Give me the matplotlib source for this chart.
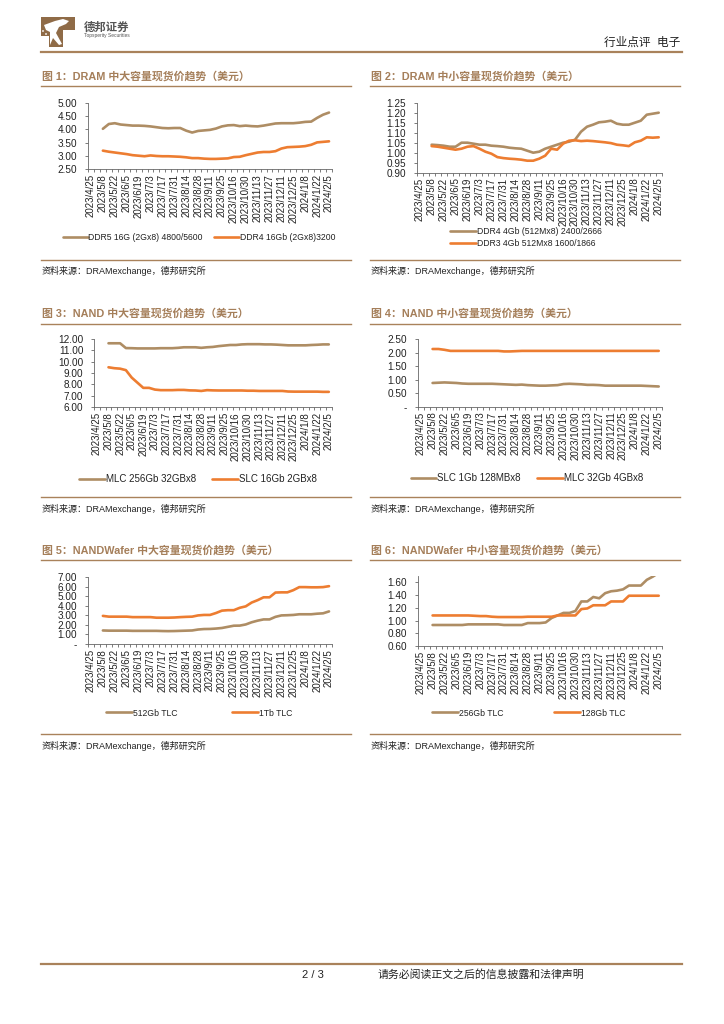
# DEPPON SECURITIES REPORT PAGE - memory spot price charts
# ----------------------------------------------------------------------------------

import numpy as np
import matplotlib
matplotlib.use('Agg')
import matplotlib.pyplot as plt
from matplotlib.lines import Line2D
from matplotlib.patches import Polygon, Circle

plt.rcParams['font.family'] = ['Liberation Sans', 'Noto Sans CJK SC', 'DejaVu Sans']


# DATA
# ----------------------------------------------------------------------------------

tick_dates = ['2023/4/25', '2023/5/8', '2023/5/22', '2023/6/5', '2023/6/19', '2023/7/3',
              '2023/7/17', '2023/7/31', '2023/8/14', '2023/8/28', '2023/9/11', '2023/9/25',
              '2023/10/16', '2023/10/30', '2023/11/13', '2023/11/27', '2023/12/11',
              '2023/12/25', '2024/1/8', '2024/1/22', '2024/2/5']

ddr5_16g = [4.02, 4.20, 4.23, 4.18, 4.16, 4.14, 4.14, 4.13, 4.11, 4.08, 4.05, 4.04, 4.05,
            4.05, 3.95, 3.88, 3.94, 3.96, 3.98, 4.03, 4.11, 4.15, 4.16, 4.12, 4.14, 4.12,
            4.11, 4.14, 4.18, 4.22, 4.23, 4.23, 4.23, 4.25, 4.28, 4.29, 4.43, 4.55, 4.63]
ddr4_16g = [3.20, 3.16, 3.13, 3.10, 3.07, 3.03, 3.01, 2.99, 3.02, 3.00, 2.99, 2.99, 2.98,
            2.97, 2.95, 2.92, 2.92, 2.90, 2.89, 2.89, 2.90, 2.91, 2.96, 2.97, 3.03, 3.08,
            3.13, 3.15, 3.15, 3.18, 3.28, 3.33, 3.34, 3.35, 3.37, 3.42, 3.51, 3.53, 3.55]

ddr4_4g = [1.040, 1.038, 1.035, 1.030, 1.030, 1.050, 1.050, 1.045, 1.040, 1.040, 1.035, 1.033,
           1.030, 1.025, 1.022, 1.020, 1.010, 1.000, 1.005, 1.020, 1.030, 1.040, 1.050, 1.055,
           1.065, 1.105, 1.130, 1.140, 1.152, 1.155, 1.160, 1.145, 1.140, 1.140, 1.150, 1.160,
           1.190, 1.195, 1.200]
ddr3_4g = [1.033, 1.030, 1.025, 1.020, 1.015, 1.020, 1.030, 1.033, 1.020, 1.005, 0.995, 0.978,
           0.973, 0.970, 0.968, 0.965, 0.960, 0.960, 0.970, 0.985, 1.020, 1.015, 1.045, 1.060,
           1.062, 1.058, 1.060, 1.058, 1.055, 1.052, 1.048, 1.040, 1.037, 1.033, 1.052, 1.060,
           1.077, 1.075, 1.077]

mlc_256g = [11.60, 11.60, 11.60, 11.18, 11.17, 11.15, 11.15, 11.15, 11.15, 11.17, 11.17, 11.17,
            11.20, 11.25, 11.25, 11.25, 11.20, 11.25, 11.28, 11.35, 11.40, 11.45, 11.45, 11.50,
            11.52, 11.52, 11.52, 11.50, 11.50, 11.48, 11.45, 11.42, 11.42, 11.42, 11.42, 11.45,
            11.47, 11.50, 11.50]
slc_16g = [9.50, 9.42, 9.38, 9.25, 8.60, 8.15, 7.70, 7.70, 7.55, 7.50, 7.50, 7.50, 7.52,
           7.52, 7.48, 7.47, 7.43, 7.50, 7.48, 7.47, 7.47, 7.47, 7.47, 7.47, 7.45, 7.45,
           7.43, 7.43, 7.43, 7.43, 7.43, 7.38, 7.37, 7.37, 7.37, 7.37, 7.37, 7.35, 7.35]

slc_1g = [0.88, 0.89, 0.90, 0.89, 0.88, 0.86, 0.85, 0.85, 0.85, 0.85, 0.85, 0.84, 0.83,
          0.82, 0.81, 0.82, 0.80, 0.79, 0.78, 0.78, 0.79, 0.80, 0.84, 0.85, 0.84, 0.83,
          0.81, 0.81, 0.80, 0.78, 0.78, 0.78, 0.78, 0.78, 0.78, 0.78, 0.77, 0.76, 0.75]
mlc_32g = [2.14, 2.14, 2.11, 2.07, 2.07, 2.07, 2.07, 2.07, 2.07, 2.07, 2.07, 2.07, 2.05,
           2.05, 2.06, 2.07, 2.07, 2.07, 2.07, 2.07, 2.07, 2.07, 2.07, 2.07, 2.07, 2.07,
           2.07, 2.07, 2.07, 2.07, 2.07, 2.07, 2.07, 2.07, 2.07, 2.07, 2.07, 2.07, 2.07]

wafer_512g = [1.42, 1.40, 1.40, 1.40, 1.40, 1.38, 1.38, 1.38, 1.38, 1.38, 1.36, 1.35, 1.36,
              1.38, 1.40, 1.42, 1.52, 1.57, 1.58, 1.62, 1.68, 1.80, 1.92, 1.93, 2.05, 2.28,
              2.45, 2.58, 2.58, 2.85, 3.00, 3.02, 3.05, 3.12, 3.12, 3.12, 3.18, 3.22, 3.42]
wafer_1t = [2.95, 2.87, 2.87, 2.87, 2.87, 2.82, 2.82, 2.82, 2.82, 2.76, 2.76, 2.76, 2.78,
            2.82, 2.85, 2.87, 3.00, 3.05, 3.05, 3.25, 3.50, 3.55, 3.55, 3.80, 3.95, 4.35,
            4.60, 4.90, 4.90, 5.40, 5.42, 5.42, 5.65, 5.97, 5.97, 5.95, 5.95, 5.97, 6.07]

wafer_256g = [0.93, 0.93, 0.93, 0.93, 0.93, 0.93, 0.94, 0.94, 0.94, 0.94, 0.94, 0.94, 0.93,
              0.93, 0.93, 0.93, 0.96, 0.96, 0.96, 0.97, 1.04, 1.08, 1.12, 1.12, 1.15, 1.30,
              1.30, 1.37, 1.35, 1.43, 1.46, 1.47, 1.49, 1.55, 1.55, 1.55, 1.64, 1.69, 1.75]
wafer_128g = [1.08, 1.08, 1.08, 1.08, 1.08, 1.08, 1.08, 1.075, 1.07, 1.07, 1.06, 1.055, 1.055,
              1.055, 1.055, 1.055, 1.06, 1.06, 1.06, 1.06, 1.06, 1.08, 1.08, 1.08, 1.08, 1.18,
              1.19, 1.24, 1.24, 1.24, 1.30, 1.30, 1.30, 1.39, 1.39, 1.39, 1.39, 1.39, 1.39]


# THEME
# ----------------------------------------------------------------------------------

W, H = 724, 1024
brown = '#AE8D64'
orange = '#ED7D31'
title_color = '#A57F5A'
rule_color = '#A9825B'
text_color = '#222222'
axis_color = '#666666'

fig = plt.figure(figsize=(W / 100, H / 100), dpi=100, facecolor='white')


# HELPER FUNCTIONS
# ----------------------------------------------------------------------------------

def fx(px):
    return px / W

def fy(py):
    return 1 - py / H

def rule(x0, x1, y, lw=1.0, color=rule_color):
    fig.add_artist(Line2D([fx(x0), fx(x1)], [fy(y), fy(y)], color=color, lw=lw))

def page_text(x, y, s, **kw):
    fig.text(fx(x), fy(y), s, va='center', **kw)

def zero_dash(v, _):
    return '-' if v == 0 else f'{v:.2f}'

def chart(box, title, source_x, rows, series, names, yticks, ylim, leg):
    left, right, top, bottom = box
    x0, x1, title_y, line_y, src_line_y, src_y = source_x, source_x + 310, rows[0], rows[1], rows[2], rows[3]

    page_text(x0 + 1, title_y, title, fontsize=7.85, fontweight='bold', color=title_color)
    rule(x0, x1, line_y)
    rule(x0, x1, src_line_y)
    page_text(x0 + 1, src_y, '资料来源：DRAMexchange，德邦研究所', fontsize=6.5, color=text_color)

    ax = fig.add_axes([fx(left), fy(bottom), fx(right - left), (bottom - top) / H])
    n_cat = len(series[0]) + 2
    xs = np.arange(2, n_cat) + 0.5
    ax.plot(xs, series[0], color=brown, lw=1.9, label=names[0], solid_capstyle='round')
    ax.plot(xs, series[1], color=orange, lw=1.9, label=names[1], solid_capstyle='round')

    ax.set_xlim(0, n_cat)
    ax.set_ylim(*ylim)
    ax.set_yticks(yticks)
    ax.yaxis.set_major_formatter(plt.FuncFormatter(zero_dash))
    ax.set_xticks(np.arange(0, n_cat, 2) + 0.5)
    ax.set_xticklabels(tick_dates, rotation=90, fontsize=7, color=text_color)
    ax.set_xticks(np.arange(0, n_cat + 1), minor=True)
    ax.tick_params(axis='x', which='major', length=0, pad=3.5)
    ax.tick_params(axis='x', which='minor', length=2.2, width=0.6, color=axis_color)
    ax.tick_params(axis='y', length=2.2, width=0.6, color=axis_color, labelsize=7.2,
                   labelcolor=text_color, pad=5.5)
    for spine in ['top', 'right']:
        ax.spines[spine].set_visible(False)
    for spine in ['left', 'bottom']:
        ax.spines[spine].set_color(axis_color)
        ax.spines[spine].set_linewidth(0.6)

    ax.legend(loc='center', bbox_to_anchor=(fx(leg['x']), fy(leg['y'])),
              bbox_transform=fig.transFigure, ncol=leg.get('ncol', 2), frameon=False,
              fontsize=leg['size'], handlelength=leg['handle'], handletextpad=0.1,
              columnspacing=leg.get('gap', 1.3), labelspacing=leg.get('vgap', 0.35),
              borderpad=0, labelcolor=text_color)
    return ax


# PAGE HEADER & FOOTER
# ----------------------------------------------------------------------------------

logo = fig.add_axes([fx(41), fy(47), fx(34), 30 / H])
logo.set_xlim(0, 34)
logo.set_ylim(30, 0)
logo.axis('off')
logo.add_patch(Polygon([(0, 0), (34, 0), (34, 13), (22, 13), (22, 30), (8, 30), (8, 19), (0, 19)],
                       closed=True, fc='#8F6B47', ec='none'))
logo.add_patch(Polygon([(3, 8), (14, 4), (22, 2), (28, 4), (25, 7), (18, 10), (15, 16), (21, 27),
                        (18, 28), (12, 21), (9, 28), (9, 15), (5, 13)],
                       closed=True, fc='white', ec='none'))
logo.add_patch(Circle((2, 14), 0.9, fc='white', ec='none'))
logo.add_patch(Circle((5, 17), 0.9, fc='white', ec='none'))

page_text(84, 27, '德邦证券', fontsize=8.2, fontweight='bold', color='#555555')
page_text(84, 36, 'Topsperity Securities', fontsize=3.5, color='#555555')
page_text(680, 43, '行业点评  电子', fontsize=8.4, ha='right', color=text_color)
rule(41, 682, 52, lw=1.6)

rule(41, 682, 964, lw=1.6)
page_text(313, 975, '2 / 3', fontsize=8, ha='center', color=text_color)
page_text(378, 975, '请务必阅读正文之后的信息披露和法律声明', fontsize=7.85, color=text_color)


# CHARTS
# ----------------------------------------------------------------------------------

chart((88, 332, 102.7, 169.3), '图 1：DRAM 中大容量现货价趋势（美元）', 41, (76, 86, 260, 271),
      (ddr5_16g, ddr4_16g), ('DDR5 16G (2Gx8) 4800/5600', 'DDR4 16Gb (2Gx8)3200'),
      np.arange(2.5, 5.01, 0.5), (2.5, 5.0),
      dict(x=199, y=238, size=6.2, handle=2.9, gap=1.3))

chart((416.7, 661.7, 102.7, 172.7), '图 2：DRAM 中小容量现货价趋势（美元）', 370, (76, 86, 260, 271),
      (ddr4_4g, ddr3_4g), ('DDR4 4Gb (512Mx8) 2400/2666', 'DDR3 4Gb 512Mx8 1600/1866'),
      np.arange(0.9, 1.251, 0.05), (0.9, 1.25),
      dict(x=526, y=237.5, size=6.2, handle=3.0, ncol=1, vgap=0.45))

chart((94, 331.7, 338.7, 407.3), '图 3：NAND 中大容量现货价趋势（美元）', 41, (313, 324, 497, 509),
      (mlc_256g, slc_16g), ('MLC 256Gb 32GBx8', 'SLC 16Gb 2GBx8'),
      np.arange(6, 12.01, 1), (6, 12),
      dict(x=198, y=479, size=7, handle=2.6, gap=1.7))

chart((417.7, 661.7, 339.3, 406.7), '图 4：NAND 中小容量现货价趋势（美元）', 370, (313, 324, 497, 509),
      (slc_1g, mlc_32g), ('SLC 1Gb 128MBx8', 'MLC 32Gb 4GBx8'),
      np.arange(0, 2.51, 0.5), (0, 2.5),
      dict(x=527, y=478, size=7, handle=2.6, gap=1.7))

chart((88, 332, 577.3, 644), '图 5：NANDWafer 中大容量现货价趋势（美元）', 41, (550, 560, 734, 746),
      (wafer_512g, wafer_1t), ('512Gb TLC', '1Tb TLC'),
      np.arange(0, 7.01, 1), (0, 7),
      dict(x=199, y=713, size=6.2, handle=3.0, gap=6.4))

chart((417.7, 661.7, 576, 646), '图 6：NANDWafer 中小容量现货价趋势（美元）', 370, (550, 560, 734, 746),
      (wafer_256g, wafer_128g), ('256Gb TLC', '128Gb TLC'),
      np.arange(0.6, 1.61, 0.2), (0.6, 1.7),
      dict(x=529, y=713, size=6.2, handle=3.0, gap=5.9))

plt.savefig('out.png', dpi=100, facecolor='white')
